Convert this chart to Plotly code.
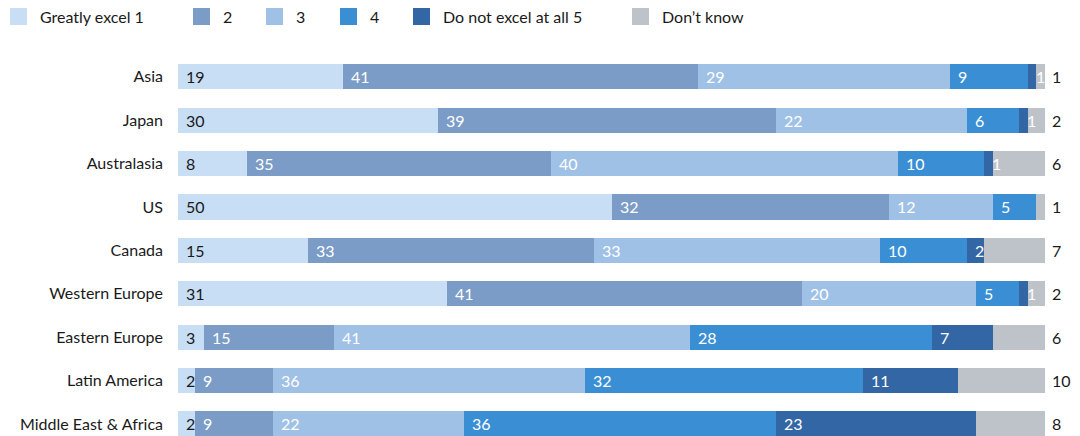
import plotly.graph_objects as go

# Regions (top to bottom) and share of answers per rating
regions = ["Asia", "Japan", "Australasia", "US", "Canada", "Western Europe",
           "Eastern Europe", "Latin America", "Middle East & Africa"]
excel_1 = [19, 30, 8, 50, 15, 31, 3, 2, 2]
excel_2 = [41, 39, 35, 32, 33, 41, 15, 9, 9]
excel_3 = [29, 22, 40, 12, 33, 20, 41, 36, 22]
excel_4 = [9, 6, 10, 5, 10, 5, 28, 32, 36]
excel_5 = [1, 1, 1, 0, 2, 1, 7, 11, 23]
dont_know = [1, 2, 6, 1, 7, 2, 6, 10, 8]

series_names = ["Greatly excel 1", "2", "3", "4", "Do not excel at all 5", "Don\u2019t know"]
series_values = [excel_1, excel_2, excel_3, excel_4, excel_5, dont_know]
series_colors = ["#c8def5", "#7a9cc6", "#a0c1e6", "#3a8fd4", "#3366a4", "#bec3ca"]
label_colors = ["#1a1a1a", "#ffffff", "#ffffff", "#ffffff", "#ffffff", None]

FONT = "Lato"
FS = 16
L, R = 178, 35
W, H, T = 1080, 436, 55
PLOT_W = W - L - R
PLOT_H = H - T

fig = go.Figure()
for name, vals, col in zip(series_names, series_values, series_colors):
    fig.add_trace(go.Bar(
        y=regions, x=vals, name=name, orientation="h",
        marker=dict(color=col, line=dict(width=0)),
        showlegend=False, hoverinfo="skip",
    ))

annotations = []
# Value labels at the left edge of each segment
for i, region in enumerate(regions):
    start = 0
    for vals, lc in zip(series_values, label_colors):
        v = vals[i]
        if lc is not None and v:
            annotations.append(dict(
                x=start, y=region, xref="x", yref="y", text=str(v),
                showarrow=False, xanchor="left", yanchor="middle", xshift=6,
                font=dict(family=FONT, size=FS, color=lc),
            ))
        start += v
    # "Don't know" share written after the bar
    annotations.append(dict(
        x=start, y=region, xref="x", yref="y", text=str(dont_know[i]),
        showarrow=False, xanchor="left", yanchor="middle", xshift=5,
        font=dict(family=FONT, size=FS, color="#1a1a1a"),
    ))

# Legend row along the top, placed in pixel terms
legend_x = [10, 193, 266, 340, 413, 632]
shapes = []
for px, name, col in zip(legend_x, series_names, series_colors):
    shapes.append(dict(
        type="rect", xref="paper", yref="paper",
        x0=(px - L) / PLOT_W, x1=(px + 17 - L) / PLOT_W,
        y0=1 + (T - 25) / PLOT_H, y1=1 + (T - 8) / PLOT_H,
        line=dict(width=0), fillcolor=col, layer="above"))
    annotations.append(dict(
        x=(px + 28 - L) / PLOT_W, xref="paper",
        y=1 + (T - 16.5) / PLOT_H, yref="paper",
        text=name, showarrow=False, xanchor="left", yanchor="middle",
        font=dict(family=FONT, size=FS, color="#1a1a1a"),
    ))

fig.update_layout(
    width=W, height=H,
    barmode="stack", bargap=0.42,
    margin=dict(l=L, r=R, t=T, b=0, pad=0),
    plot_bgcolor="white", paper_bgcolor="white",
    font=dict(family=FONT, size=FS, color="#1a1a1a"),
    xaxis=dict(range=[0, 100], visible=False, fixedrange=True),
    yaxis=dict(categoryorder="array", categoryarray=regions,
               range=[8.277, -0.5], showgrid=False, zeroline=False,
               showline=False, ticks="", ticklabelstandoff=14,
               tickfont=dict(family=FONT, size=FS, color="#1a1a1a")),
    annotations=annotations,
    shapes=shapes,
)

fig.write_html("out.html")
